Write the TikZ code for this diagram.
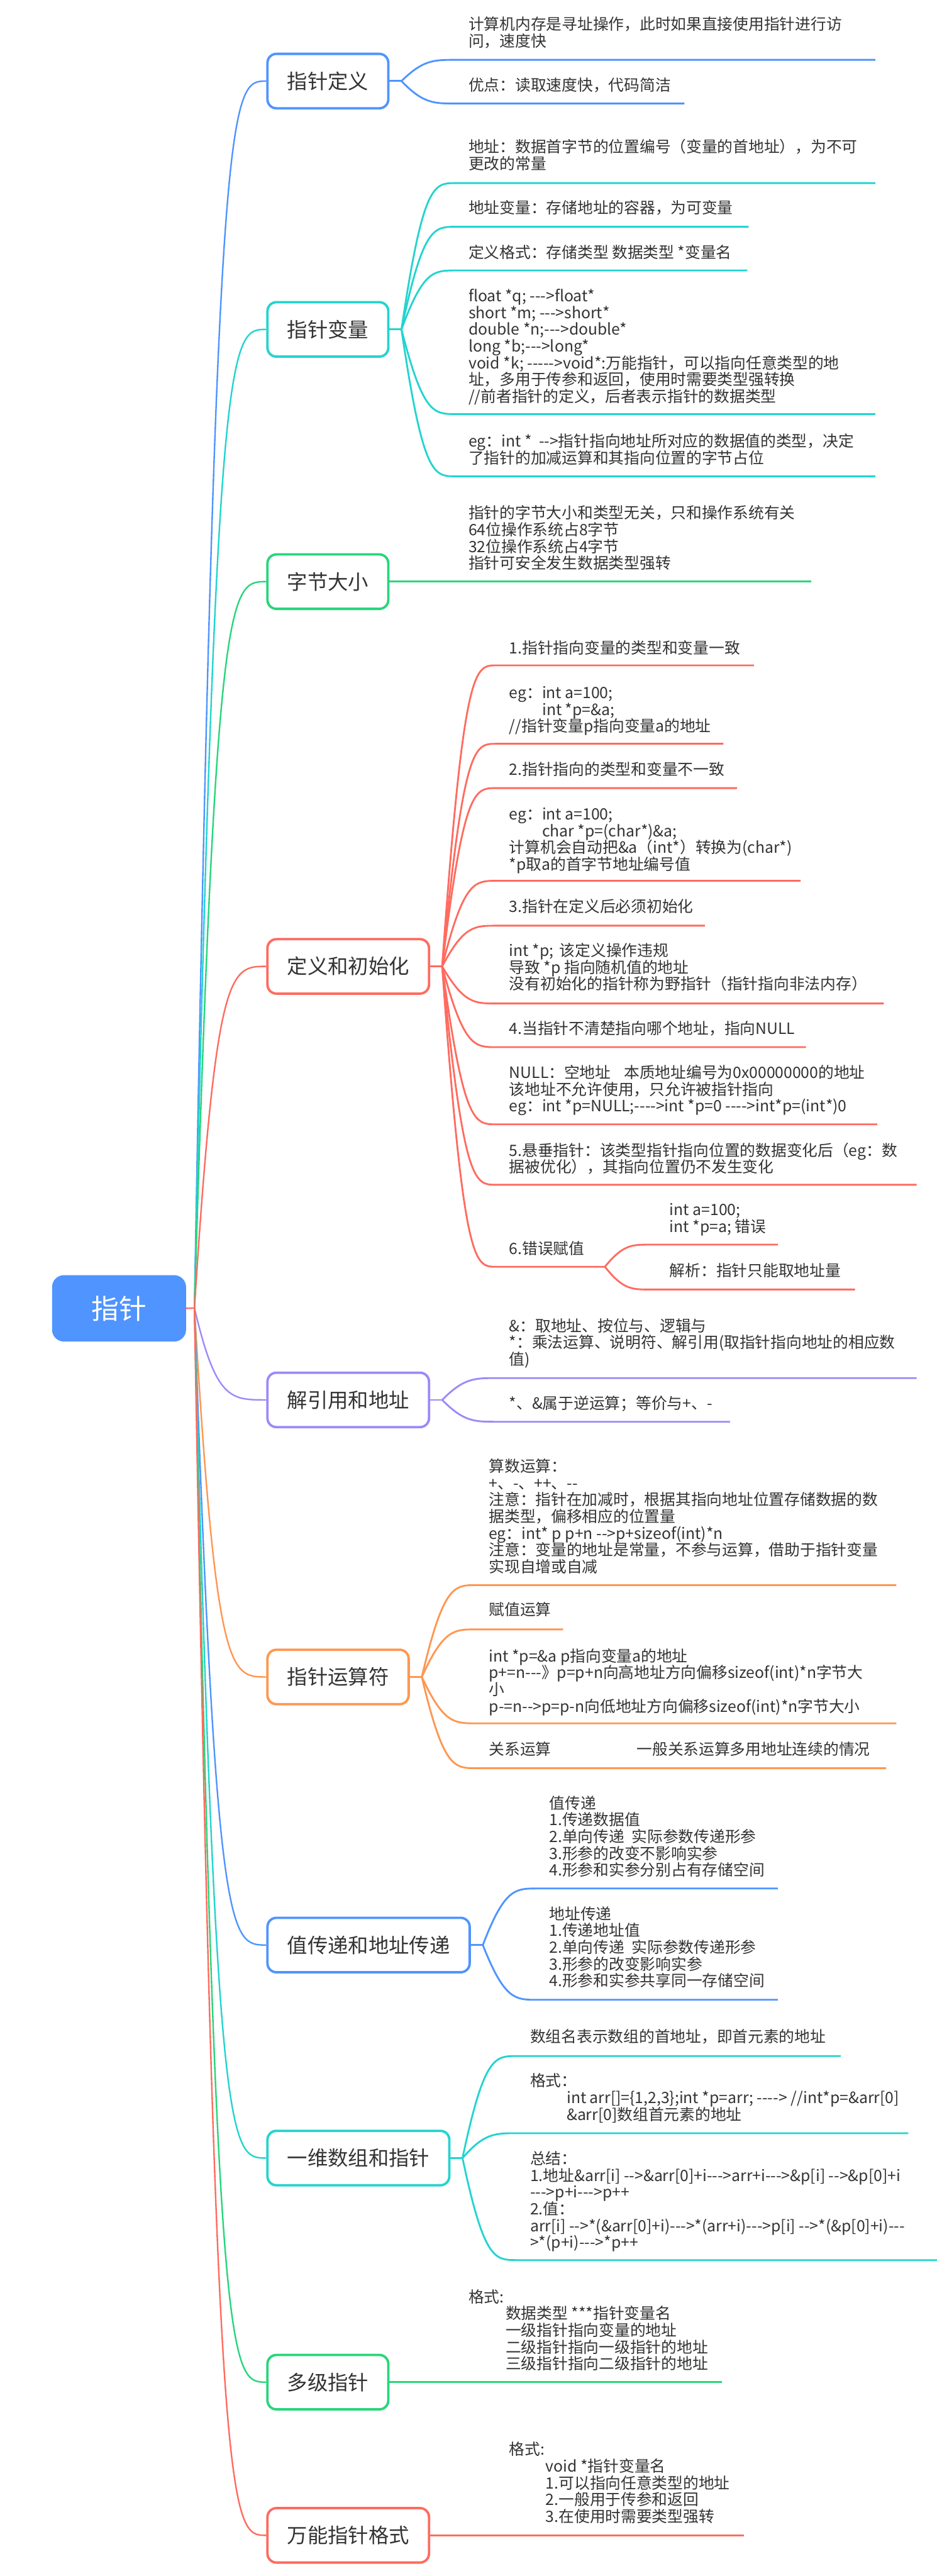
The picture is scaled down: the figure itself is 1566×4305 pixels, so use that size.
\documentclass[tikz,border=0pt]{standalone}
\usepackage{fontspec}
\newfontfamily\cjk{Noto Sans CJK SC}
\usetikzlibrary{calc}
\definecolor{cblue}{HTML}{4F94FF}
\definecolor{cteal}{HTML}{22D4CF}
\definecolor{cgreen}{HTML}{26D67A}
\definecolor{cred}{HTML}{FF6B5F}
\definecolor{cpurple}{HTML}{9D89F8}
\definecolor{corange}{HTML}{FF9650}
\definecolor{txtc}{HTML}{333333}
\newcommand\tb[1]{\vtop{\baselineskip=28pt\lineskiplimit=-30pt\lineskip=0pt #1}}
\newcommand\myl[1]{\hbox{#1}}
% child connector: colour, junction name, junction x, dx, underline y, end x, end name
\newcommand\kid[7]{%
  \coordinate (#7) at (#6,#5);
  \draw[kidline=#1] (#2) .. controls ({#3+0.4*#4},#5) and ({#3+0.6*#4},#5) .. ({#3+#4},#5) -- (#7);
}
\newcommand\rootc[2]{%
  \draw[rootline=#1] (J0) .. controls (RC1 |- #2.west) and (RC2 |- #2.west) .. (#2.west);
}
\begin{document}
\begin{tikzpicture}[x=1pt,y=-1pt,
  mainbox/.style={draw=#1, line width=4pt, fill=white, rounded corners=15pt,
    minimum height=91pt, inner xsep=33pt, inner ysep=0pt, anchor=west,
    font=\cjk\fontsize{34}{40}\selectfont, text=txtc},
  txt/.style={anchor=base west, inner sep=0pt, font=\cjk\fontsize{26}{28}\selectfont, text=txtc},
  rootline/.style={draw=#1, line width=2.5pt},
  kidline/.style={draw=#1, line width=3pt},
]
\fill[white] (0,0) rectangle (1566,4305);
\useasboundingbox (0,0) rectangle (1566,4305);

% root
\node[fill=cblue, rounded corners=20pt, minimum width=224pt, minimum height=111pt, inner sep=0pt,
  text=white, font=\cjk\fontsize{46}{50}\selectfont] (root) at (199,2186.5) {指针};
\coordinate (J0) at (325,2186);
\coordinate (RC1) at (361,0);
\coordinate (RC2) at (385,0);

% main nodes
\node[mainbox=cblue] (m1) at (445,135.5) {指针定义};
\node[mainbox=cteal] (m2) at (445,550.5) {指针变量};
\node[mainbox=cgreen] (m3) at (445,972) {字节大小};
\node[mainbox=cred] (m4) at (445,1615) {定义和初始化};
\node[mainbox=cpurple] (m5) at (445,2339.5) {解引用和地址};
\node[mainbox=corange] (m6) at (445,2802.5) {指针运算符};
\node[mainbox=cblue] (m7) at (445,3250.5) {值传递和地址传递};
\node[mainbox=cteal] (m8) at (445,3606.5) {一维数组和指针};
\node[mainbox=cgreen] (m9) at (445,3981) {多级指针};
\node[mainbox=cred] (m10) at (445,4237) {万能指针格式};

% root connectors
\rootc{cblue}{m1}
\rootc{cteal}{m2}
\rootc{cgreen}{m3}
\rootc{cpurple}{m5}
\rootc{corange}{m6}
\rootc{cblue}{m7}
\rootc{cteal}{m8}
\rootc{cgreen}{m9}
\rootc{cred}{m10}
\rootc{cred}{m4}
\draw[rootline=cred] (root.east) -- (J0);

% junctions
\coordinate (J1) at (671,135.5);
\coordinate (J2) at (671,550.5);
\coordinate (J4) at (739,1615);
\coordinate (J5) at (739,2339.5);
\coordinate (J6) at (705,2802.5);
\coordinate (J7) at (807,3250.5);
\coordinate (J8) at (773,3606.5);
\draw[kidline=cblue] (m1.east) -- (J1);
\draw[kidline=cteal] (m2.east) -- (J2);
\draw[kidline=cred] (m4.east) -- (J4);
\draw[kidline=cpurple] (m5.east) -- (J5);
\draw[kidline=corange] (m6.east) -- (J6);
\draw[kidline=cblue] (m7.east) -- (J7);
\draw[kidline=cteal] (m8.east) -- (J8);

% ---- 指针定义
\kid{cblue}{J1}{671}{90}{100}{1463}{e1a}
\kid{cblue}{J1}{671}{90}{173}{1144}{e1b}
\node[txt] (t1a) at (783,50) {\tb{\myl{计算机内存是寻址操作，此时如果直接使用指针进行访}\myl{问，速度快}}};
\node[txt] (t1b) at (783,152) {\tb{\myl{优点：读取速度快，代码简洁}}};

% ---- 指针变量
\kid{cteal}{J2}{671}{90}{306}{1463}{e2a}
\kid{cteal}{J2}{671}{90}{379}{1251}{e2b}
\kid{cteal}{J2}{671}{90}{452}{1249}{e2c}
\kid{cteal}{J2}{671}{90}{692}{1463}{e2d}
\kid{cteal}{J2}{671}{90}{796}{1463}{e2e}
\node[txt] (t2a) at (783,255) {\tb{\myl{地址：数据首字节的位置编号（变量的首地址），为不可}\myl{更改的常量}}};
\node[txt] (t2b) at (783,357) {\tb{\myl{地址变量：存储地址的容器，为可变量}}};
\node[txt] (t2c) at (783,431) {\tb{\myl{定义格式：存储类型 数据类型 *变量名}}};
\node[txt] (t2d) at (783,504) {\tb{\myl{float *q; --->float*}\myl{short *m; --->short*}\myl{double *n;--->double*}\myl{long *b;--->long*}\myl{void *k; ----->void*:万能指针，可以指向任意类型的地}\myl{址，多用于传参和返回，使用时需要类型强转换}\myl{//前者指针的定义，后者表示指针的数据类型}}};
\node[txt] (t2e) at (783,747) {\tb{\myl{eg：int *\hskip12pt-->指针指向地址所对应的数据值的类型，决定}\myl{了指针的加减运算和其指向位置的字节占位}}};

% ---- 字节大小
\coordinate (e3) at (1356,972);
\draw[kidline=cgreen] (m3.east) -- (e3);
\node[txt] (t3) at (783,867) {\tb{\myl{指针的字节大小和类型无关，只和操作系统有关}\myl{64位操作系统占8字节}\myl{32位操作系统占4字节}\myl{指针可安全发生数据类型强转}}};

% ---- 定义和初始化
\kid{cred}{J4}{739}{90}{1112}{1260}{e4a}
\kid{cred}{J4}{739}{90}{1243}{1209}{e4b}
\kid{cred}{J4}{739}{90}{1317}{1232}{e4c}
\kid{cred}{J4}{739}{90}{1472}{1338}{e4d}
\kid{cred}{J4}{739}{90}{1547}{1178}{e4e}
\kid{cred}{J4}{739}{90}{1677}{1477}{e4f}
\kid{cred}{J4}{739}{90}{1750}{1347}{e4g}
\kid{cred}{J4}{739}{90}{1879}{1466}{e4h}
\kid{cred}{J4}{739}{90}{1980}{1532}{e4i}
\kid{cred}{J4}{739}{90}{2117}{1011}{e4j}
\kid{cred}{e4j}{1011}{75}{2080}{1300}{e4k}
\kid{cred}{e4j}{1011}{75}{2155}{1429}{e4l}
\node[txt] (t4a) at (851,1092) {\tb{\myl{1.指针指向变量的类型和变量一致}}};
\node[txt] (t4b) at (851,1167) {\tb{\myl{eg：int a=100;}\myl{\hskip55pt int *p=\&a;}\myl{//指针变量p指向变量a的地址}}};
\node[txt] (t4c) at (851,1295) {\tb{\myl{2.指针指向的类型和变量不一致}}};
\node[txt] (t4d) at (851,1370) {\tb{\myl{eg：int a=100;}\myl{\hskip55pt char *p=(char*)\&a;}\myl{计算机会自动把\&a（int*）转换为(char*)}\myl{*p取a的首字节地址编号值}}};
\node[txt] (t4e) at (851,1525) {\tb{\myl{3.指针在定义后必须初始化}}};
\node[txt] (t4f) at (851,1598) {\tb{\myl{int *p;\hskip10pt 该定义操作违规}\myl{导致 *p 指向随机值的地址}\myl{没有初始化的指针称为野指针（指针指向非法内存）}}};
\node[txt] (t4g) at (851,1728) {\tb{\myl{4.当指针不清楚指向哪个地址，指向NULL}}};
\node[txt] (t4h) at (851,1802) {\tb{\myl{NULL：空地址\hskip22pt 本质地址编号为0x00000000的地址}\myl{该地址不允许使用，只允许被指针指向}\myl{eg：int *p=NULL;---->int *p=0 ---->int*p=(int*)0}}};
\node[txt] (t4i) at (851,1932) {\tb{\myl{5.悬垂指针：该类型指针指向位置的数据变化后（eg：数}\myl{据被优化），其指向位置仍不发生变化}}};
\node[txt] (t4j) at (851,2096) {\tb{\myl{6.错误赋值}}};
\node[txt] (t4k) at (1119,2031) {\tb{\myl{int a=100;}\myl{int *p=a; 错误}}};
\node[txt] (t4l) at (1119,2133) {\tb{\myl{解析：指针只能取地址量}}};

% ---- 解引用和地址
\kid{cpurple}{J5}{739}{90}{2303}{1532}{e5a}
\kid{cpurple}{J5}{739}{90}{2376}{1220}{e5b}
\node[txt] (t5a) at (851,2225) {\tb{\myl{\&：取地址、按位与、逻辑与}\myl{*：乘法运算、说明符、解引用(取指针指向地址的相应数}\myl{值)}}};
\node[txt] (t5b) at (851,2355) {\tb{\myl{*、\&属于逆运算；等价与+、-}}};

% ---- 指针运算符
\kid{corange}{J6}{705}{90}{2649}{1498}{e6a}
\kid{corange}{J6}{705}{90}{2723}{941}{e6b}
\kid{corange}{J6}{705}{90}{2880}{1498}{e6c}
\kid{corange}{J6}{705}{90}{2955}{1481}{e6d}
\node[txt] (t6a) at (817,2460) {\tb{\myl{算数运算：}\myl{+、-、++、--}\myl{注意：指针在加减时，根据其指向地址位置存储数据的数}\myl{据类型，偏移相应的位置量}\myl{eg：int* p p+n -->p+sizeof(int)*n}\myl{注意：变量的地址是常量，不参与运算，借助于指针变量}\myl{实现自增或自减}}};
\node[txt] (t6b) at (817,2700) {\tb{\myl{赋值运算}}};
\node[txt] (t6c) at (817,2777) {\tb{\myl{int *p=\&a p指向变量a的地址}\myl{p+=n---》p=p+n向高地址方向偏移sizeof(int)*n字节大}\myl{小}\myl{p-=n-->p=p-n向低地址方向偏移sizeof(int)*n字节大小}}};
\node[txt] (t6d) at (817,2933) {\tb{\myl{关系运算\hskip143pt 一般关系运算多用地址连续的情况}}};

% ---- 值传递和地址传递
\kid{cblue}{J7}{807}{90}{3156}{1300}{e7a}
\kid{cblue}{J7}{807}{90}{3342}{1300}{e7b}
\node[txt] (t7a) at (918,3023) {\tb{\myl{值传递}\myl{1.传递数据值}\myl{2.单向传递\hskip12pt 实际参数传递形参}\myl{3.形参的改变不影响实参}\myl{4.形参和实参分别占有存储空间}}};
\node[txt] (t7b) at (918,3208) {\tb{\myl{地址传递}\myl{1.传递地址值}\myl{2.单向传递\hskip12pt 实际参数传递形参}\myl{3.形参的改变影响实参}\myl{4.形参和实参共享同一存储空间}}};

% ---- 一维数组和指针
\kid{cteal}{J8}{773}{90}{3436}{1405}{e8a}
\kid{cteal}{J8}{773}{90}{3565}{1518}{e8b}
\kid{cteal}{J8}{773}{90}{3777}{1566}{e8c}
\node[txt] (t8a) at (886,3413) {\tb{\myl{数组名表示数组的首地址，即首元素的地址}}};
\node[txt] (t8b) at (886,3487) {\tb{\myl{格式：}\myl{\hskip61pt int arr[]=\{1,2,3\};int *p=arr; ----> //int*p=\&arr[0]}\myl{\hskip61pt \&arr[0]数组首元素的地址}}};
\node[txt] (t8c) at (886,3617) {\tb{\myl{总结：}\myl{1.地址\&arr[i] -->\&arr[0]+i--->arr+i--->\&p[i] -->\&p[0]+i}\myl{--->p+i--->p++}\myl{2.值：}\myl{arr[i] -->*(\&arr[0]+i)--->*(arr+i)--->p[i] -->*(\&p[0]+i)---}\myl{>*(p+i)--->*p++}}};

% ---- 多级指针
\coordinate (e9) at (1207,3981);
\draw[kidline=cgreen] (m9.east) -- (e9);
\node[txt] (t9) at (783,3848) {\tb{\myl{格式:}\myl{\hskip62pt 数据类型 ***指针变量名}\myl{\hskip62pt 一级指针指向变量的地址}\myl{\hskip62pt 二级指针指向一级指针的地址}\myl{\hskip62pt 三级指针指向二级指针的地址}}};

% ---- 万能指针格式
\coordinate (e10) at (1243,4237);
\draw[kidline=cred] (m10.east) -- (e10);
\node[txt] (t10) at (851,4103) {\tb{\myl{格式:}\myl{\hskip61pt void *指针变量名}\myl{\hskip61pt 1.可以指向任意类型的地址}\myl{\hskip61pt 2.一般用于传参和返回}\myl{\hskip61pt 3.在使用时需要类型强转}}};
\end{tikzpicture}
\end{document}
